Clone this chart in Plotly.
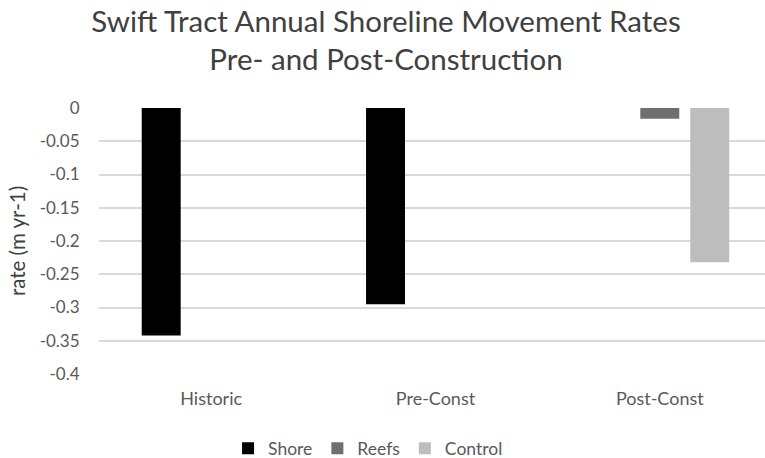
import plotly.graph_objects as go

categories = ["Historic", "Pre-Const", "Post-Const"]
shore = [-0.342, -0.295, None]
reefs = [None, None, -0.016]
control = [None, None, -0.232]
series_names = ["Shore", "Reefs", "Control"]
series_colors = ["#000000", "#6f6f6f", "#bdbdbd"]
y_tick_vals = [0, -0.05, -0.1, -0.15, -0.2, -0.25, -0.3, -0.35, -0.4]
y_tick_text = ["0", "-0.05", "-0.1", "-0.15", "-0.2", "-0.25", "-0.3", "-0.35", "-0.4"]

FONT = "Lato"
TXT = "#595959"

fig = go.Figure()
for name, vals, col in zip(series_names, [shore, reefs, control], series_colors):
    fig.add_trace(go.Bar(x=categories, y=vals, name=name,
                         marker=dict(color=col, line=dict(width=0))))

fig.update_layout(
    width=765, height=458,
    margin=dict(l=99, r=0, t=108, b=84, autoexpand=False),
    paper_bgcolor="white", plot_bgcolor="white",
    barmode="group", bargap=0.332, bargroupgap=0.22,
    font=dict(family=FONT, color=TXT, size=17),
    title=dict(text="Swift Tract Annual Shoreline Movement Rates<br>Pre- and Post-Construction",
               x=0.5046, xref="container", xanchor="center",
               y=0.9312, yref="container", yanchor="top",
               font=dict(family=FONT, size=29.5, color="#404040")),
    legend=dict(orientation="h", x=0.404, xanchor="center",
                y=-0.28, yref="paper", yanchor="middle",
                font=dict(family=FONT, size=17.5, color=TXT),
                itemwidth=30, traceorder="normal"),
    showlegend=True,
)
fig.update_xaxes(range=[-0.5, 2.469], showgrid=False, zeroline=False, showline=False,
                 ticks="outside", ticklen=8, tickcolor="rgba(0,0,0,0)",
                 tickfont=dict(family=FONT, size=18, color=TXT))
fig.update_yaxes(range=[-0.4, 0], tickvals=y_tick_vals, ticktext=y_tick_text,
                 showgrid=True, gridcolor="#d9d9d9", gridwidth=1.5,
                 zeroline=False, showline=False,
                 ticks="outside", ticklen=15, tickcolor="rgba(0,0,0,0)",
                 tickfont=dict(family=FONT, size=17, color=TXT),
                 title=dict(text="rate (m yr-1)", standoff=8,
                            font=dict(family=FONT, size=20.5, color="#404040")))

fig.write_html("out.html", config={"displayModeBar": False},
               post_script="document.body.style.margin='0';")
